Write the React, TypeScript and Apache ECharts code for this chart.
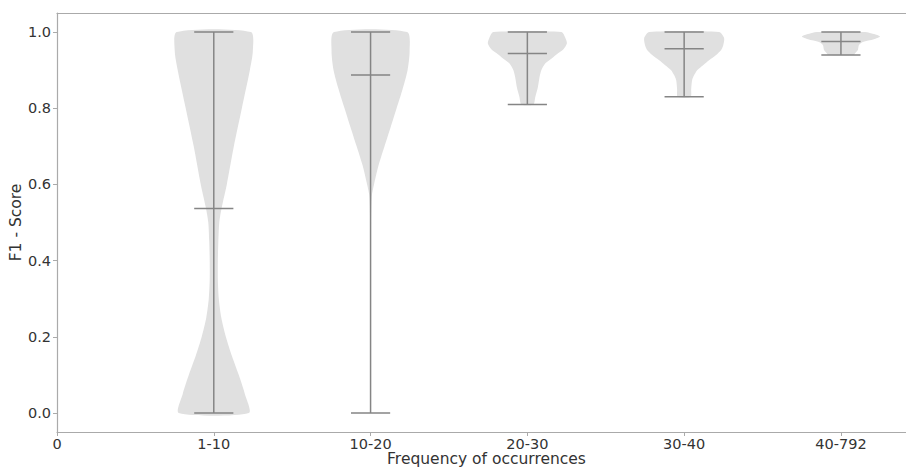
import React, { useEffect, useRef } from "react";
import * as echarts from "echarts";

const tickLabels = ["0", "1-10", "10-20", "20-30", "30-40", "40-792"];
const groups = ["1-10", "10-20", "20-30", "30-40", "40-792"];

// density profile (y value, half width in x units) for each violin
const ys1 = [1.0, 0.95, 0.9, 0.8, 0.7, 0.6, 0.54, 0.5, 0.45, 0.4, 0.35, 0.3, 0.25, 0.2, 0.15, 0.1, 0.05, 0.0];
const hw1 = [0.236, 0.249, 0.23, 0.179, 0.128, 0.083, 0.051, 0.035, 0.029, 0.026, 0.026, 0.032, 0.048, 0.077, 0.115, 0.159, 0.198, 0.223];
const ys2 = [1.0, 0.95, 0.9, 0.85, 0.8, 0.75, 0.7, 0.65, 0.6, 0.57, 0.5, 0.3, 0.0];
const hw2 = [0.233, 0.249, 0.236, 0.204, 0.166, 0.128, 0.089, 0.051, 0.022, 0.008, 0.003, 0.002, 0.002];
const ys3 = [1.0, 0.985, 0.97, 0.955, 0.945, 0.93, 0.918, 0.9, 0.88, 0.855, 0.83, 0.81];
const hw3 = [0.217, 0.242, 0.252, 0.23, 0.198, 0.153, 0.115, 0.089, 0.077, 0.067, 0.051, 0.038];
const ys4 = [1.0, 0.984, 0.965, 0.953, 0.94, 0.926, 0.913, 0.9, 0.887, 0.874, 0.85, 0.83];
const hw4 = [0.223, 0.255, 0.249, 0.236, 0.204, 0.159, 0.121, 0.083, 0.064, 0.051, 0.045, 0.041];
const ys5 = [1.0, 0.994, 0.988, 0.981, 0.974, 0.966, 0.953, 0.944, 0.94];
const hw5 = [0.153, 0.217, 0.249, 0.21, 0.14, 0.115, 0.108, 0.089, 0.083];

const means = [0.537, 0.887, 0.944, 0.956, 0.9755];
const mins = [0.0, 0.0, 0.81, 0.83, 0.94];
const maxs = [1.0, 1.0, 1.0, 1.0, 1.0];

const profileYs = [ys1, ys2, ys3, ys4, ys5];
const profileHw = [hw1, hw2, hw3, hw4, hw5];

const FONT = "DejaVu Sans";
const TEXT = "#333333";
const SPINE = "#aaaaaa";
const FILL = "#e0e0e0";
const LINE = "#858585";
const CAP = 0.125;

export default function App() {
  const ref = useRef<HTMLDivElement>(null);
  useEffect(() => {
    if (!ref.current) return;
    const chart = echarts.init(ref.current, null, { renderer: "svg" });
    const data = groups.map((_, i) => [i + 1, mins[i], maxs[i]]);
    chart.setOption({
      animation: false,
      grid: { left: 57, right: 0, top: 13, bottom: 35, containLabel: false, outerBoundsMode: "none" },
      xAxis: [
        {
          type: "value",
          min: 0,
          max: 5.415,
          position: "bottom",
          splitLine: { show: false },
          axisLine: { show: true, onZero: false, lineStyle: { color: SPINE, width: 1.2 } },
          axisTick: { show: true, length: 4, lineStyle: { color: SPINE }, customValues: [0, 1, 2, 3, 4, 5] },
          axisLabel: {
            customValues: [0, 1, 2, 3, 4, 5],
            formatter: (v: number) => tickLabels[Math.round(v)] ?? "",
            color: TEXT,
            fontFamily: FONT,
            fontSize: 14.5,
            lineHeight: 15,
            margin: 4,
          },
        },
        {
          type: "value",
          min: 0,
          max: 5.415,
          position: "top",
          splitLine: { show: false },
          axisLine: { show: true, onZero: false, lineStyle: { color: SPINE, width: 1.2 } },
          axisTick: { show: false },
          axisLabel: { show: false },
        },
      ],
      yAxis: {
        type: "value",
        min: -0.05,
        max: 1.05,
        name: "F1 - Score",
        nameLocation: "middle",
        nameGap: 33,
        nameMoveOverlap: false,
        nameTextStyle: { color: TEXT, fontFamily: FONT, fontSize: 15.5 },
        splitLine: { show: false },
        axisLine: { show: true, onZero: false, lineStyle: { color: SPINE, width: 1.2 } },
        axisTick: { show: true, length: 4, lineStyle: { color: SPINE }, customValues: [0, 0.2, 0.4, 0.6, 0.8, 1.0] },
        axisLabel: {
          customValues: [0, 0.2, 0.4, 0.6, 0.8, 1.0],
          formatter: (v: number) => v.toFixed(1),
          color: TEXT,
          fontFamily: FONT,
          fontSize: 14.5,
          margin: 6,
        },
      },
      graphic: [
        {
          type: "text",
          x: 486.5,
          y: 459,
          style: {
            text: "Frequency of occurrences",
            fill: TEXT,
            font: `15.5px "${FONT}"`,
            lineHeight: 16,
            textAlign: "center",
            textVerticalAlign: "middle",
          },
        },
      ],
      series: [
        {
          type: "custom",
          xAxisIndex: 0,
          data,
          encode: { x: 0, y: [1, 2] },
          renderItem: (params: any, api: any) => {
            const i = params.dataIndex;
            const pos = i + 1;
            const ys = profileYs[i];
            const hw = profileHw[i];
            const pts: number[][] = [];
            for (let k = 0; k < ys.length; k++) pts.push(api.coord([pos + hw[k], ys[k]]));
            for (let k = ys.length - 1; k >= 0; k--) pts.push(api.coord([pos - hw[k], ys[k]]));
            const lineStyle = { stroke: LINE, lineWidth: 1.5 };
            const hline = (y: number) => {
              const a = api.coord([pos - CAP, y]);
              const b = api.coord([pos + CAP, y]);
              return { type: "line", shape: { x1: a[0], y1: a[1], x2: b[0], y2: b[1] }, style: lineStyle };
            };
            const top = api.coord([pos, maxs[i]]);
            const bot = api.coord([pos, mins[i]]);
            return {
              type: "group",
              children: [
                { type: "polygon", shape: { points: pts, smooth: 0.25 }, style: { fill: FILL, stroke: "none" } },
                { type: "line", shape: { x1: top[0], y1: top[1], x2: bot[0], y2: bot[1] }, style: lineStyle },
                hline(maxs[i]),
                hline(mins[i]),
                hline(means[i]),
              ],
            };
          },
        },
      ],
    });
    return () => chart.dispose();
  }, []);
  return <div ref={ref} style={{ width: 906, height: 467, position: "absolute", left: 0, top: 0 }} />;
}
